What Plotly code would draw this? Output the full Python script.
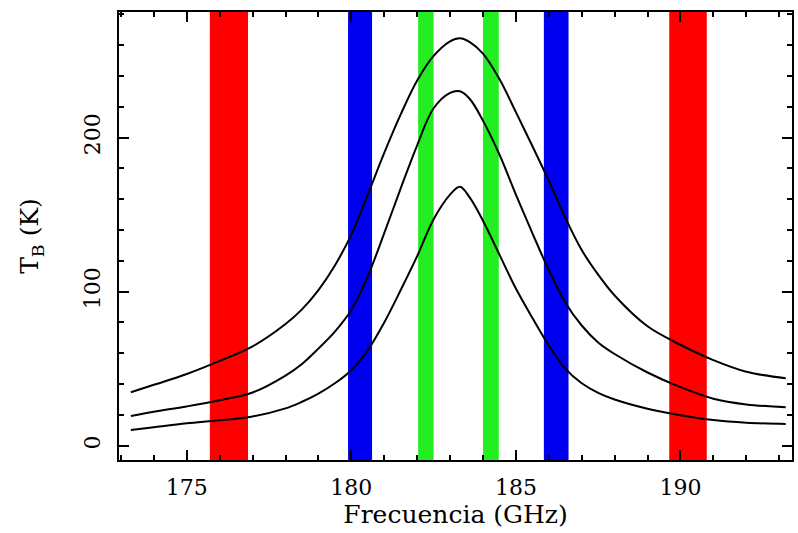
import plotly.graph_objects as go

# Frequencies (GHz) at which the spectra were read
freq = [173.3, 174.0, 175.0, 176.0, 177.0, 178.0, 178.5, 179.0, 179.5, 180.0, 180.5,
        181.0, 181.5, 182.0, 182.5, 183.0, 183.3, 183.6, 184.0, 184.5, 185.0, 185.5,
        186.0, 186.5, 187.0, 187.5, 188.0, 189.0, 190.0, 191.0, 192.0, 193.2]

# Brightness temperature (K) for three atmospheric profiles
tb_high = [34.7, 39.5, 46.5, 55.0, 64.5, 79.0, 88.5, 101.0, 117.0, 137.0, 163.0,
           190.0, 215.0, 237.0, 253.0, 262.5, 264.5, 262.0, 254.5, 238.0, 216.5, 194.5,
           172.0, 148.0, 127.0, 111.0, 97.5, 77.5, 65.5, 55.5, 48.0, 43.8]
tb_mid = [19.3, 22.0, 25.5, 29.5, 34.5, 45.5, 53.0, 63.0, 74.0, 88.0, 110.0,
          138.0, 167.0, 195.0, 219.0, 229.0, 230.0, 225.0, 211.0, 189.0, 163.0, 138.0,
          114.0, 93.0, 78.0, 67.0, 59.5, 47.5, 38.0, 30.5, 26.8, 24.9]
tb_low = [10.2, 12.0, 14.5, 16.5, 19.0, 24.2, 28.5, 33.8, 40.5, 49.0, 62.0,
          80.0, 101.0, 123.0, 147.0, 163.0, 168.0, 161.0, 146.0, 124.0, 102.0, 83.0,
          65.0, 50.0, 40.5, 34.3, 30.0, 24.0, 19.8, 16.6, 14.9, 14.1]

# Channel pass-bands (GHz)
band_lo = [175.70, 189.66, 179.90, 185.85, 182.03, 184.00]
band_hi = [176.86, 190.80, 180.63, 186.60, 182.50, 184.48]
band_colors = ["#ff0000", "#ff0000", "#0000f0", "#0000f0", "#22ee22", "#22ee22"]

x_range = [172.94, 193.39]
y_range = [-9.3, 281.5]

fig = go.Figure()

for lo, hi, col in zip(band_lo, band_hi, band_colors):
    fig.add_vrect(x0=lo, x1=hi, fillcolor=col, opacity=1, line_width=0, layer="below")

for tb in (tb_high, tb_mid, tb_low):
    fig.add_trace(go.Scatter(x=freq, y=tb, mode="lines",
                             line=dict(color="black", width=2, shape="spline", smoothing=1.0),
                             showlegend=False, hoverinfo="skip"))

font_family = "DejaVu Serif"

fig.update_layout(
    width=798, height=533,
    margin=dict(l=119, r=4, t=12, b=73),
    paper_bgcolor="white", plot_bgcolor="white",
    font=dict(family=font_family, size=22, color="black"),
    showlegend=False,
)

fig.update_xaxes(
    range=x_range, tickvals=[175, 180, 185, 190],
    ticks="inside", ticklen=10, tickwidth=1.5, tickcolor="black",
    minor=dict(dtick=1, ticks="inside", ticklen=5, tickwidth=1.5, tickcolor="black"),
    showline=True, linecolor="black", linewidth=2, mirror="allticks",
    showgrid=False, zeroline=False,
    tickfont=dict(family=font_family, size=22, color="black"),
    ticklabelstandoff=7,
    title=dict(text="Frecuencia (GHz)", font=dict(family=font_family, size=25, color="black"),
               standoff=4),
)

fig.update_yaxes(
    range=y_range, tickvals=[0, 100, 200], tickangle=-90,
    ticks="inside", ticklen=10, tickwidth=1.5, tickcolor="black",
    minor=dict(dtick=20, ticks="inside", ticklen=5, tickwidth=1.5, tickcolor="black"),
    showline=True, linecolor="black", linewidth=2, mirror="allticks",
    showgrid=False, zeroline=False,
    tickfont=dict(family=font_family, size=22, color="black"),
    ticklabelstandoff=8,
    title=dict(text="T<sub>B</sub> (K)", font=dict(family=font_family, size=25, color="black"),
               standoff=34),
)

fig.write_html("out.html")
